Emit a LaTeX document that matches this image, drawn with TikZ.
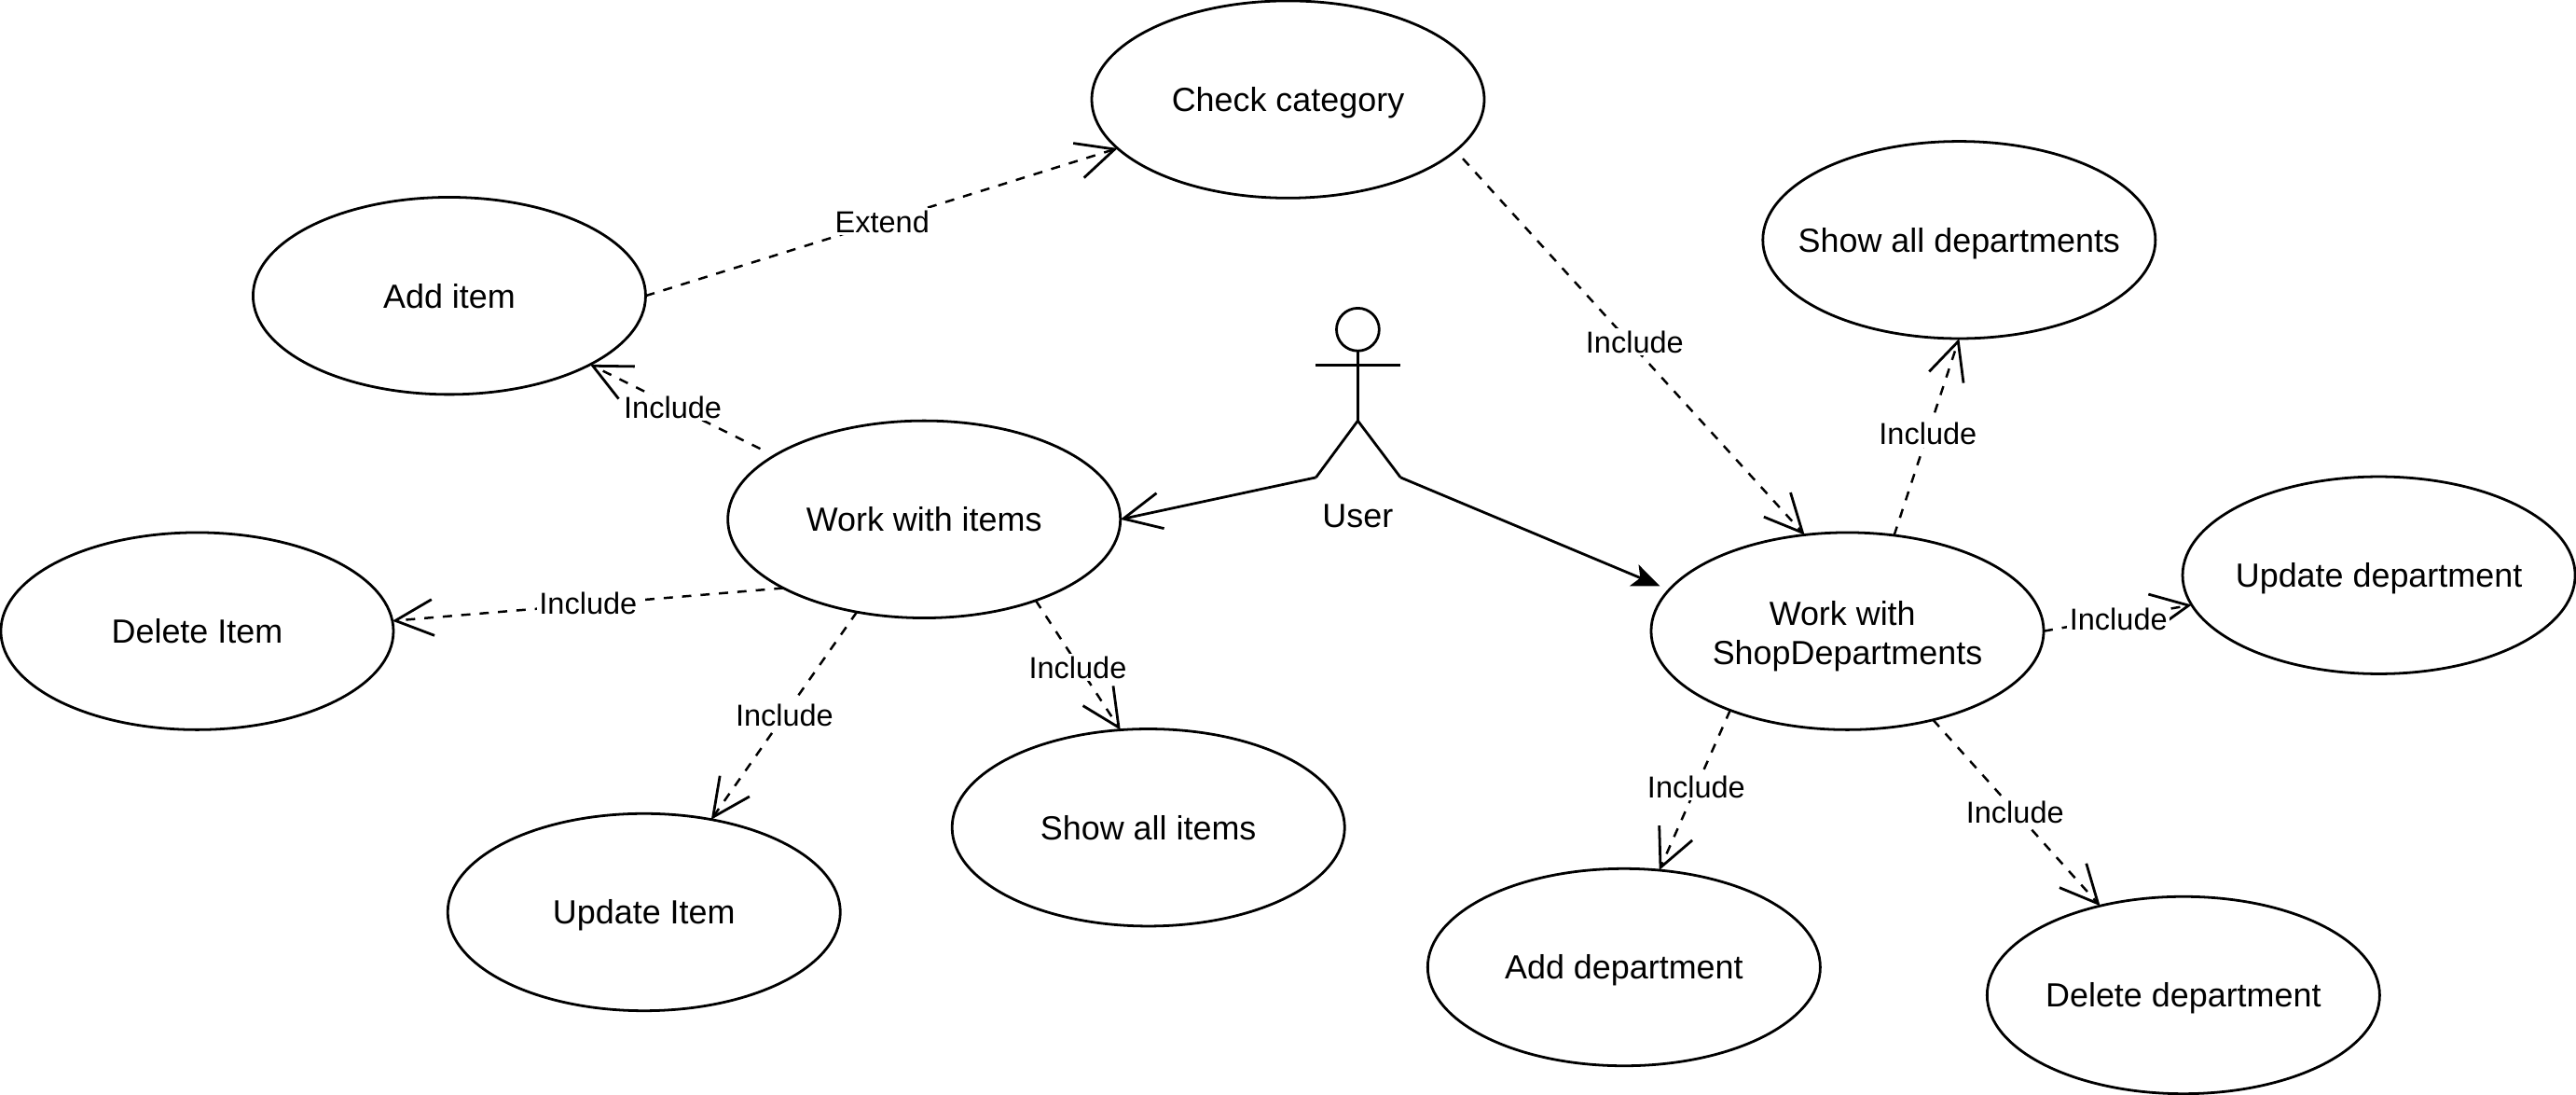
\documentclass[tikz,border=0pt]{standalone}
\usepackage{fontspec}
\setmainfont{Liberation Sans}
\usetikzlibrary{shapes.geometric,arrows.meta}
\tikzset{
  usecase/.style={draw=black,fill=white,ellipse,minimum width=4.78cm,minimum height=2.4cm,inner xsep=-0.4cm,inner ysep=0pt,outer sep=0pt,align=center,line width=0.9pt,text height=8.3pt,text depth=0pt,font=\fontsize{11.6}{13.6}\selectfont},
  lbl/.style={fill=white,inner sep=0.8pt,font=\fontsize{10.5}{12}\selectfont},
  dep/.style={line width=0.8pt,dash pattern=on 3.2pt off 3.2pt,-{Straight Barb[length=0.46cm,width=0.44cm,line width=0.9pt]}},
  assoc/.style={line width=0.9pt,-{Straight Barb[length=0.46cm,width=0.44cm,line width=0.9pt]}},
  assocfilled/.style={line width=0.9pt,-{Stealth[length=0.34cm,width=0.28cm,inset=0.08cm]}},
  actor/.style={line width=0.9pt,line join=miter}
}
\begin{document}
\begin{tikzpicture}[x=0.02cm,y=-0.02cm]
\useasboundingbox (0,0) rectangle (1568,665.7);
\node[usecase] (check) at (784,60.5) {Check category};
\node[usecase] (additem) at (273.5,180) {Add item};
\node[usecase] (showdep) at (1192.5,146) {Show all departments};
\node[usecase] (items) at (562.5,316) {Work with items};
\node[usecase] (delitem) at (120,384) {Delete Item};
\node[usecase] (upditem) at (392,555) {Update Item};
\node[usecase] (showitems) at (699,503.5) {Show all items};
\node[usecase,text height=23pt] (shop) at (1124.5,384) {Work with\hspace*{0.12cm}\\ShopDepartments};
\node[usecase] (upddep) at (1448,350) {Update department};
\node[usecase] (adddep) at (988.5,588.5) {Add department};
\node[usecase] (deldep) at (1329,605.5) {Delete department};
% actor
\node[draw,circle,minimum size=0.52cm,inner sep=0pt,outer sep=0pt,line width=0.9pt] (head) at (826.5,200.5) {};
\coordinate (hip) at (826.5,256);
\coordinate (lfoot) at (801,290.5);
\coordinate (rfoot) at (852.5,290.5);
\coordinate (larm) at (801,222);
\coordinate (rarm) at (852.5,222);
\draw[actor] (head.south) -- (hip);
\draw[actor] (larm) -- (rarm);
\draw[actor] (lfoot) -- (hip) -- (rfoot);
\node[font=\fontsize{11.6}{13.6}\selectfont,inner sep=0pt] (user) at (826.5,314) {User};
% connectors
\draw[assoc] (lfoot) -- (items.east);
\draw[assocfilled,shorten >=0.12cm] (rfoot) -- (shop.167.9);
\draw[dep] (additem.east) -- (check.196.5);
\draw[dep,shorten <=0.13cm] (check.-17.1) -- (shop.114.6);
\draw[dep] (shop.64.6) -- (showdep.south);
\draw[dep] (shop.east) -- (upddep.189);
\draw[dep] (shop.214.8) -- (adddep.70);
\draw[dep] (shop.-46.9) -- (deldep.133.6);
\draw[dep,shorten <=0.19cm] (items.157.5) -- (additem.-26.2);
\draw[dep] (items.206.4) -- (delitem.3.8);
\draw[dep] (items.234.1) -- (upditem.54.7);
\draw[dep] (items.-36.5) -- (showitems.106.8);
% labels
\node[lbl] (l1) at (537,135) {Extend};
\node[lbl] (l2) at (995,208) {Include};
\node[lbl] (l3) at (1173.5,264) {Include};
\node[lbl] (l4) at (1289.5,377) {Include};
\node[lbl] (l5) at (1032.5,479) {Include};
\node[lbl] (l6) at (1226.5,494) {Include};
\node[lbl] (l7) at (409.5,248) {Include};
\node[lbl] (l8) at (358,367) {Include};
\node[lbl] (l9) at (477.5,435) {Include};
\node[lbl] (l10) at (656,406) {Include};
\end{tikzpicture}
\end{document}
